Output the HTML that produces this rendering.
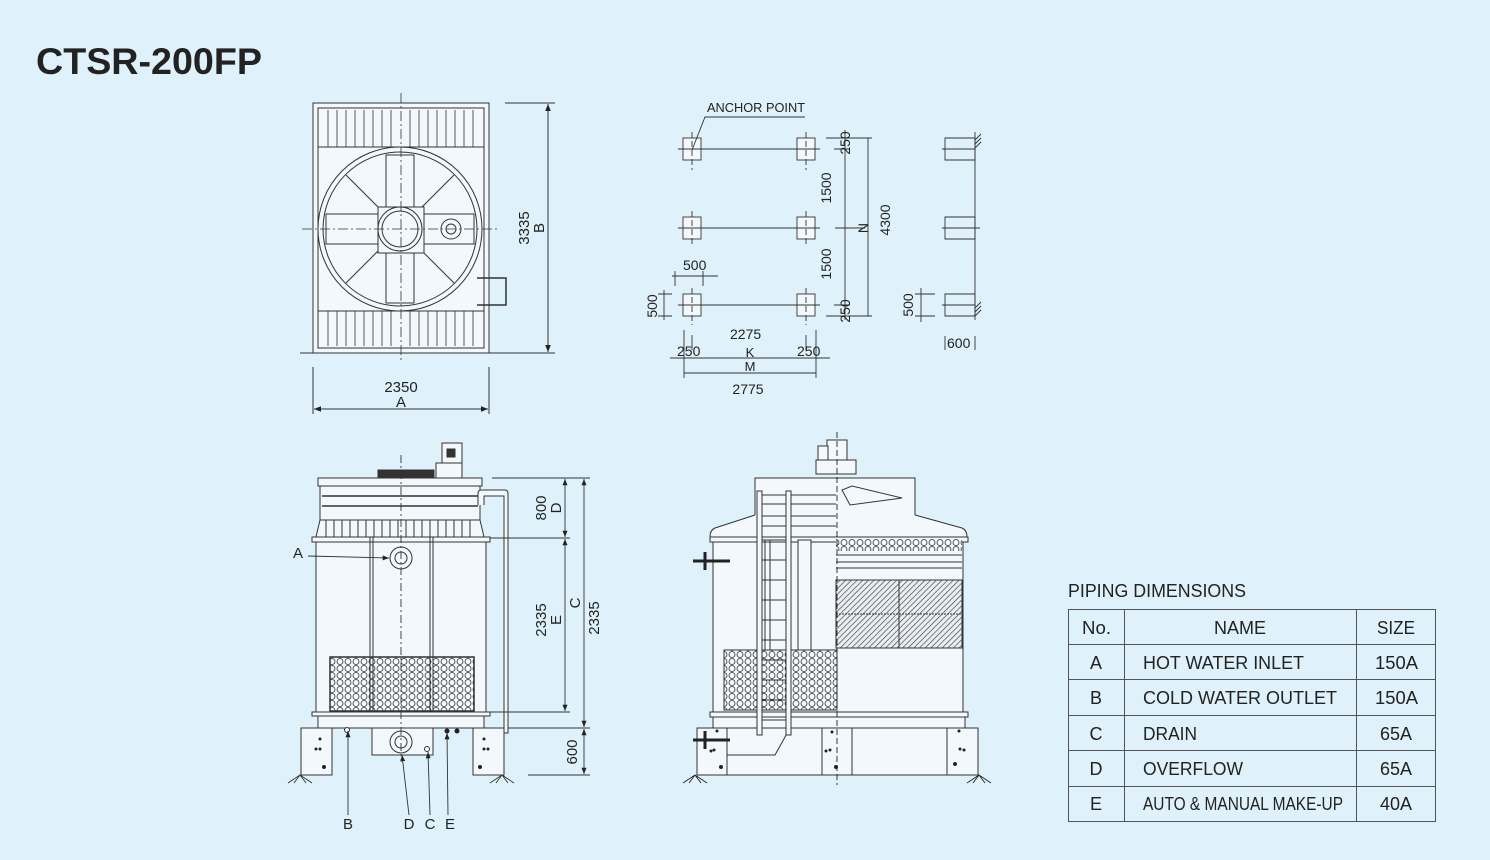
<!DOCTYPE html>
<html><head><meta charset="utf-8"><style>
html,body{margin:0;padding:0;background:#dff1fa;}
svg{display:block;font-family:"Liberation Sans",sans-serif;}
</style></head><body>
<svg width="1490" height="860" viewBox="0 0 1490 860" xmlns="http://www.w3.org/2000/svg">
<defs>
<pattern id="hex" width="8" height="7" patternUnits="userSpaceOnUse">
<rect width="8" height="7" fill="#f2f8fb"/>
<circle cx="4" cy="3.5" r="3" fill="none" stroke="#333" stroke-width="0.8"/>
</pattern>
<pattern id="hatch" width="4" height="4" patternUnits="userSpaceOnUse" patternTransform="rotate(45)">
<rect width="4" height="4" fill="#e8eef2"/>
<line x1="0" y1="0" x2="0" y2="4" stroke="#333" stroke-width="1.2"/>
</pattern>
<marker id="ar" viewBox="0 0 10 10" refX="10" refY="5" markerWidth="7" markerHeight="7" orient="auto-start-reverse"><path d="M0,1 L10,5 L0,9 z" fill="#222"/></marker>
</defs>
<rect width="1490" height="860" fill="#dff1fa"/>
<text x="36" y="74" font-size="37" font-weight="bold" fill="#222" textLength="226" lengthAdjust="spacingAndGlyphs">CTSR-200FP</text>

<!-- TOP VIEW -->
<g stroke="#333" stroke-width="1" fill="none">
<rect x="313" y="103" width="176" height="250" fill="#f2f8fb"/>
<rect x="318" y="108" width="166" height="240"/>
<line x1="318" y1="147" x2="484" y2="147"/>
<line x1="318" y1="311" x2="484" y2="311"/>
<g stroke-width="0.8">
<path d="M328 110V147M337 110V147M346 110V147M355 110V147M364 110V147M373 110V147M382 110V147M391 110V147M410 110V147M419 110V147M428 110V147M437 110V147M446 110V147M455 110V147M464 110V147M473 110V147"/>
<path d="M328 311V346M337 311V346M346 311V346M355 311V346M364 311V346M373 311V346M382 311V346M391 311V346M410 311V346M419 311V346M428 311V346M437 311V346M446 311V346M455 311V346M464 311V346M473 311V346"/>
</g>
<circle cx="400" cy="229" r="82" fill="#f2f8fb"/>
<circle cx="400" cy="229" r="77"/>
<path d="M346 175L454 283M454 175L346 283"/>
<rect x="386" y="155" width="28" height="148" fill="#f2f8fb"/>
<rect x="326" y="214" width="148" height="30" fill="#f2f8fb"/>
<rect x="378" y="207" width="46" height="46" fill="#f2f8fb"/>
<circle cx="400" cy="229" r="22"/>
<circle cx="400" cy="229" r="18"/>
<circle cx="451" cy="229" r="10" fill="#f2f8fb"/>
<circle cx="451" cy="229" r="5"/>
<path d="M477 278H506V305H477" stroke-width="1.5"/>
<line x1="401" y1="93" x2="401" y2="362" stroke-dasharray="10 3 2 3" stroke-width="0.8"/>
<line x1="302" y1="229" x2="500" y2="229" stroke-dasharray="10 3 2 3" stroke-width="0.8"/>
<line x1="300" y1="353" x2="555" y2="353"/>
<line x1="505" y1="103" x2="555" y2="103"/>
<line x1="548" y1="104" x2="548" y2="352" marker-start="url(#ar)" marker-end="url(#ar)"/>
<line x1="313" y1="367" x2="313" y2="414"/>
<line x1="489" y1="367" x2="489" y2="414"/>
<line x1="314" y1="409" x2="488" y2="409" marker-start="url(#ar)" marker-end="url(#ar)"/>
</g>
<text x="401" y="392" font-size="15" text-anchor="middle" fill="#222">2350</text>
<text x="401" y="407" font-size="15" text-anchor="middle" fill="#222">A</text>
<text transform="translate(529,228) rotate(-90)" font-size="15" text-anchor="middle" fill="#222">3335</text>
<text transform="translate(544,228) rotate(-90)" font-size="15" text-anchor="middle" fill="#222">B</text>

<!-- PLAN VIEW -->
<g stroke="#333" stroke-width="0.9" fill="none">
<g fill="#f2f8fb">
<rect x="683" y="138" width="18" height="22"/><rect x="797" y="138" width="18" height="22"/>
<rect x="683" y="217" width="18" height="22"/><rect x="797" y="217" width="18" height="22"/>
<rect x="683" y="294" width="18" height="22"/><rect x="797" y="294" width="18" height="22"/>
</g>
<path d="M678 149H820M678 228H820M678 305H820"/>
<path d="M692 132V170M692 211V245M692 288V325M806 132V170M806 211V245M806 288V325" stroke-dasharray="6 3"/>
<path d="M692 150L705 117H805"/>
<path d="M826 138H872M826 316H872M834 149H850M834 305H850M835 228H865"/>
<path d="M845 130V320M868 138V316"/>
<path d="M675 271V286M703 271V286M672 276H718"/>
<path d="M658 294H672M658 316H672M664 290V320"/>
<path d="M684 330V378M816 330V378M692 335V350M806 335V350"/>
<path d="M670 358H830M684 373H816"/>
<path d="M942 149H975M942 228H980M942 305H975M945 138H975V160H945ZM945 217H975V239H945ZM945 294H975V316H945Z"/>
<path d="M975 132V320"/>
<path d="M975 140L981 134M975 144L981 138M975 148L981 142M975 308L981 302M975 312L981 306M975 316L981 310"/>
<path d="M915 294H935M915 316H935M921 288V322M945 336V350M975 336V350"/>
</g>
<g font-size="14" fill="#222">
<text x="707" y="112" font-size="13" textLength="98" lengthAdjust="spacingAndGlyphs">ANCHOR POINT</text>
<text transform="translate(850,143) rotate(-90)" text-anchor="middle">250</text>
<text transform="translate(831,188) rotate(-90)" text-anchor="middle">1500</text>
<text transform="translate(868,228) rotate(-90)" text-anchor="middle">N</text>
<text transform="translate(890,220) rotate(-90)" text-anchor="middle">4300</text>
<text transform="translate(831,264) rotate(-90)" text-anchor="middle">1500</text>
<text transform="translate(850,311) rotate(-90)" text-anchor="middle">250</text>
<text x="683" y="270">500</text>
<text transform="translate(657,306) rotate(-90)" text-anchor="middle">500</text>
<text transform="translate(913,305) rotate(-90)" text-anchor="middle">500</text>
<text x="730" y="339">2275</text>
<text x="677" y="356">250</text>
<text x="797" y="356">250</text>
<text x="750" y="357" text-anchor="middle" font-size="13">K</text>
<text x="750" y="371" text-anchor="middle" font-size="13">M</text>
<text x="748" y="394" text-anchor="middle">2775</text>
<text x="947" y="348">600</text>
</g>

<!-- FRONT VIEW -->
<g stroke="#333" stroke-width="1" fill="#f2f8fb">
<rect x="442" y="443" width="20" height="20"/>
<rect x="447" y="449" width="8" height="8" fill="#333"/>
<rect x="436" y="463" width="26" height="15"/>
<rect x="378" y="470" width="56" height="8" fill="#333"/>
<rect x="318" y="478" width="164" height="8"/>
<rect x="320" y="486" width="160" height="34"/>
<line x1="322" y1="496" x2="478" y2="496" stroke-width="1.5"/>
<line x1="322" y1="506" x2="478" y2="506" stroke-width="1.5"/>
<path d="M320 520L316 537H484L480 520Z"/>
<path d="M326 520V537M334 520V537M342 520V537M350 520V537M358 520V537M366 520V537M374 520V537M382 520V537M390 520V537M398 520V537M406 520V537M414 520V537M422 520V537M430 520V537M438 520V537M446 520V537M454 520V537M462 520V537M470 520V537" fill="none"/>
<rect x="312" y="537" width="178" height="5"/>
<rect x="316" y="542" width="170" height="170"/>
<rect x="330" y="657" width="144" height="54" fill="url(#hex)" stroke-width="1.5"/>
<path d="M370 537V712M373 537V712M430 537V712M433 537V712" fill="none"/>
<rect x="312" y="712" width="178" height="4"/>
<rect x="318" y="716" width="166" height="12"/>
<rect x="301" y="728" width="31" height="47"/>
<rect x="473" y="728" width="31" height="47"/>
<rect x="372" y="728" width="61" height="27"/>
<circle cx="401" cy="558" r="11"/><circle cx="401" cy="558" r="6"/>
<circle cx="401" cy="742" r="11"/><circle cx="401" cy="742" r="6"/>
<circle cx="427" cy="749" r="2.5"/><circle cx="347" cy="730" r="2.5"/>
<path d="M478 505V493Q478 490 482 490H505Q508 490 508 494V733H504V496H484V505" fill="#f2f8fb"/>
</g>
<g fill="#222">
<circle cx="447" cy="731" r="2.5"/><circle cx="457" cy="731" r="2.5"/>
<circle cx="320" cy="739" r="1.5"/><circle cx="316" cy="749" r="1.5"/><circle cx="320" cy="749" r="1.5"/><circle cx="324" cy="767" r="2"/>
<circle cx="484" cy="739" r="1.5"/><circle cx="488" cy="749" r="1.5"/><circle cx="484" cy="749" r="1.5"/><circle cx="480" cy="767" r="2"/>
</g>
<g stroke="#333" stroke-width="0.9" fill="none">
<line x1="401" y1="455" x2="401" y2="760" stroke-dasharray="8 3 2 3"/>
<path d="M288 783L300 775L312 783M294 783L300 775M306 783L300 775M490 783L502 775L514 783M496 783L502 775M508 783L502 775"/>
<path d="M300 775H313M490 775H504"/>
<line x1="308" y1="556" x2="389" y2="558" marker-end="url(#ar)"/>
<line x1="348" y1="815" x2="348" y2="731" marker-end="url(#ar)"/>
<line x1="409" y1="815" x2="402" y2="755" marker-end="url(#ar)"/>
<line x1="430" y1="815" x2="428" y2="752" marker-end="url(#ar)"/>
<line x1="448" y1="815" x2="447" y2="733" marker-end="url(#ar)"/>
<path d="M492 478H590M490 538H570M490 712H570M508 728H590M528 775H590"/>
<line x1="565" y1="479" x2="565" y2="537" marker-start="url(#ar)" marker-end="url(#ar)"/>
<line x1="565" y1="539" x2="565" y2="711" marker-start="url(#ar)" marker-end="url(#ar)"/>
<line x1="584" y1="479" x2="584" y2="727" marker-start="url(#ar)" marker-end="url(#ar)"/>
<line x1="584" y1="729" x2="584" y2="774" marker-start="url(#ar)" marker-end="url(#ar)"/>
</g>
<g font-size="15" fill="#222">
<text x="293" y="558">A</text>
<text x="348" y="829" text-anchor="middle">B</text>
<text x="409" y="829" text-anchor="middle">D</text>
<text x="430" y="829" text-anchor="middle">C</text>
<text x="450" y="829" text-anchor="middle">E</text>
<text transform="translate(546,508) rotate(-90)" text-anchor="middle">800</text>
<text transform="translate(561,508) rotate(-90)" text-anchor="middle">D</text>
<text transform="translate(546,620) rotate(-90)" text-anchor="middle">2335</text>
<text transform="translate(561,620) rotate(-90)" text-anchor="middle">E</text>
<text transform="translate(580,603) rotate(-90)" text-anchor="middle">C</text>
<text transform="translate(599,618) rotate(-90)" text-anchor="middle">2335</text>
<text transform="translate(577,752) rotate(-90)" text-anchor="middle">600</text>
</g>

<!-- SIDE VIEW -->
<g stroke="#333" stroke-width="1" fill="#f2f8fb">
<rect x="827" y="440" width="20" height="20"/>
<rect x="818" y="446" width="10" height="14"/>
<rect x="816" y="460" width="40" height="14"/>
<rect x="755" y="478" width="160" height="62"/>
<path d="M755 515L715 528Q710 530 710 537L710 540H967V537Q967 530 962 528L915 515"/>
<rect x="710" y="537" width="258" height="5"/>
<rect x="713" y="542" width="250" height="170"/>
<path d="M760 495H836M760 504H836M760 516H836M760 526H836" fill="none"/>
<path d="M842 490L850 505L902 498L852 486Z"/>
<rect x="836" y="539" width="126" height="12" fill="url(#hex)" stroke="none"/>
<path d="M836 555H962M836 562H962M836 568H962" fill="none"/>
<rect x="836" y="580" width="126" height="68" fill="url(#hatch)"/>
<line x1="899" y1="580" x2="899" y2="648" fill="none"/>
<line x1="836" y1="614" x2="962" y2="614" fill="none" stroke-dasharray="2 1"/>
<rect x="724" y="650" width="113" height="60" fill="url(#hex)"/>
<rect x="798" y="540" width="13" height="110"/>
<rect x="710" y="712" width="258" height="5"/>
<rect x="713" y="717" width="252" height="11"/>
<rect x="697" y="728" width="281" height="47"/>
<path d="M727 728V775M822 728V775M852 728V775M947 728V775M790 728L775 755H727" fill="none"/>
<path d="M757 491H762V735H757ZM786 491H791V735H786Z"/>
<path d="M762 540H786M762 560H786M762 580H786M762 600H786M762 620H786M762 640H786M762 660H786M762 680H786M762 700H786M762 720H786" fill="none"/>
<path d="M765 540V650M770 540V650" fill="none"/>
</g>
<g stroke="#222" fill="none">
<path d="M693 561H730M705 552V570" stroke-width="3" />
<path d="M693 740H730M705 731V749" stroke-width="3"/>
<path d="M693 561H730M693 740H730" stroke-width="1"/>
<line x1="837" y1="432" x2="837" y2="785" stroke-dasharray="6 3" stroke-width="0.9"/>
<path d="M683 783L695 775L707 783M689 783L695 775M701 783L695 775M967 783L979 775L991 783M973 783L979 775M985 783L979 775" stroke-width="0.9"/>
</g>
<g fill="#222">
<circle cx="717" cy="731" r="1.5"/><circle cx="711" cy="751" r="1.5"/><circle cx="714" cy="750" r="1.5"/><circle cx="721" cy="767" r="2"/>
<circle cx="832" cy="732" r="1.5"/><circle cx="826" cy="751" r="1.5"/><circle cx="830" cy="750" r="1.5"/><circle cx="836" cy="767" r="2"/>
<circle cx="959" cy="731" r="1.5"/><circle cx="960" cy="749" r="1.5"/><circle cx="964" cy="750" r="1.5"/><circle cx="955" cy="764" r="2"/>
</g>

<!-- TABLE -->
<text x="1068" y="597" font-size="18" fill="#222" textLength="178" lengthAdjust="spacingAndGlyphs">PIPING DIMENSIONS</text>
<g stroke="#555" stroke-width="1" fill="none">
<rect x="1068.5" y="609.5" width="367" height="212"/>
<path d="M1068 644.5H1436M1068 679.5H1436M1068 715.5H1436M1068 750.5H1436M1068 786.5H1436M1124.5 609V822M1356.5 609V822"/>
</g>
<g font-size="18" fill="#222">
<text x="1082" y="634" textLength="29" lengthAdjust="spacingAndGlyphs">No.</text>
<text x="1214" y="634" textLength="52" lengthAdjust="spacingAndGlyphs">NAME</text>
<text x="1377" y="634" textLength="38" lengthAdjust="spacingAndGlyphs">SIZE</text>
<text x="1096" y="669" text-anchor="middle">A</text><text x="1143" y="669" textLength="161" lengthAdjust="spacingAndGlyphs">HOT WATER INLET</text><text x="1375" y="669" textLength="43" lengthAdjust="spacingAndGlyphs">150A</text>
<text x="1096" y="704" text-anchor="middle">B</text><text x="1143" y="704" textLength="194" lengthAdjust="spacingAndGlyphs">COLD WATER OUTLET</text><text x="1375" y="704" textLength="43" lengthAdjust="spacingAndGlyphs">150A</text>
<text x="1096" y="740" text-anchor="middle">C</text><text x="1143" y="740" textLength="54" lengthAdjust="spacingAndGlyphs">DRAIN</text><text x="1380" y="740" textLength="32" lengthAdjust="spacingAndGlyphs">65A</text>
<text x="1096" y="775" text-anchor="middle">D</text><text x="1143" y="775" textLength="100" lengthAdjust="spacingAndGlyphs">OVERFLOW</text><text x="1380" y="775" textLength="32" lengthAdjust="spacingAndGlyphs">65A</text>
<text x="1096" y="810" text-anchor="middle">E</text><text x="1143" y="810" textLength="200" lengthAdjust="spacingAndGlyphs">AUTO &amp; MANUAL MAKE-UP</text><text x="1380" y="810" textLength="32" lengthAdjust="spacingAndGlyphs">40A</text>
</g>
</svg>
</body></html>
